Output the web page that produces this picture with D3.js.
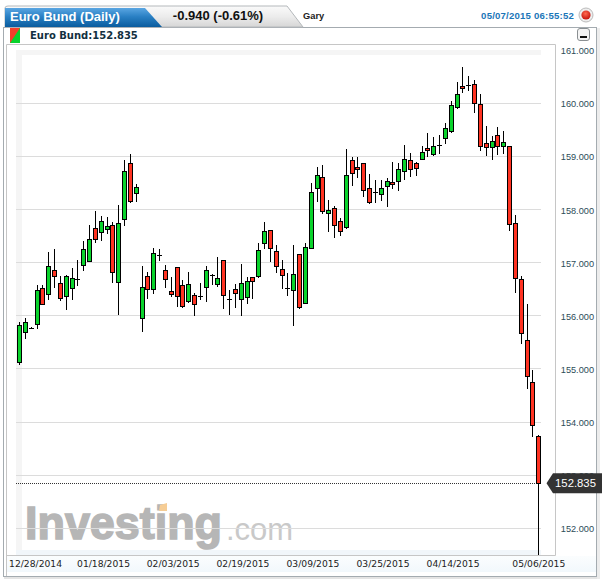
<!DOCTYPE html>
<html><head><meta charset="utf-8">
<style>html,body{margin:0;padding:0;background:#fff;overflow:hidden}svg{display:block}</style>
<script src="https://cdn.jsdelivr.net/npm/d3@7/dist/d3.min.js"></script></head>
<body><svg id="c" width="602" height="581"></svg>
<script>
const open=[155.127,155.679,155.770,155.830,156.508,156.395,156.847,156.602,156.357,156.508,156.690,156.941,157.016,157.637,157.562,157.619,157.694,156.620,157.807,158.862,158.297,155.943,156.734,
156.489,157.142,156.847,156.464,156.903,156.564,156.263,156.376,156.369,156.526,156.759,156.583,157.035,156.300,156.489,156.300,156.338,156.715,156.734,157.355,157.600,157.204,156.865,156.508,
156.471,157.149,156.226,157.274,158.392,158.599,157.921,158.015,157.770,157.657,158.919,158.787,158.862,158.392,158.316,158.279,158.429,158.505,158.523,158.712,158.919,158.862,158.938,159.145,159.032,159.201,
159.333,159.465,159.917,160.312,160.337,160.350,159.973,159.239,159.163,159.389,159.182,159.182,157.732,156.677,155.529,154.738,153.721];
const high=[155.880,155.955,155.773,156.564,156.564,157.186,157.248,156.740,156.765,156.884,157.035,157.393,157.694,157.958,157.864,157.845,157.751,158.071,158.924,159.037,158.472,156.922,156.815,
157.261,157.242,156.947,156.715,156.903,156.658,156.809,156.413,156.602,156.928,156.778,157.091,157.035,156.470,156.595,156.960,156.715,156.715,157.361,157.763,157.600,157.317,157.035,156.790,
157.318,157.149,157.356,158.486,158.787,158.825,158.166,158.053,157.827,159.126,158.988,158.975,158.862,158.661,158.542,158.542,158.592,158.881,158.869,159.201,159.063,158.881,159.182,159.427,159.352,159.390,
159.615,160.042,160.387,160.676,160.500,160.425,160.168,159.565,159.371,159.540,159.465,159.182,157.883,156.740,156.213,154.964,153.746];
const low=[155.064,155.560,155.767,155.735,156.194,156.282,156.508,156.263,156.100,156.294,156.552,156.834,157.000,157.368,157.393,157.525,156.602,155.999,157.688,158.121,158.140,155.685,156.300,
156.407,157.029,156.514,156.351,156.156,156.144,156.225,155.980,156.294,156.257,156.564,156.539,156.125,156.012,156.131,155.993,156.219,156.313,156.696,157.248,157.010,156.796,156.489,156.370,
155.805,156.113,156.213,157.262,158.128,157.902,157.576,157.450,157.494,157.619,158.442,158.580,158.235,158.090,158.122,158.159,158.046,158.379,158.341,158.548,158.611,158.624,158.925,158.988,159.000,159.032,
159.226,159.440,159.892,160.193,160.231,159.810,159.101,159.007,158.925,159.019,159.038,157.594,156.414,155.453,154.606,153.702,151.486];
const close=[155.811,155.867,155.770,156.470,156.206,156.922,156.734,156.319,156.734,156.696,156.690,157.242,157.430,157.430,157.769,157.675,156.809,157.732,158.711,158.146,158.410,156.526,156.489,
157.167,157.142,156.677,156.395,156.357,156.169,156.583,156.206,156.369,156.847,156.759,156.696,156.376,156.300,156.413,156.602,156.639,156.639,157.223,157.581,157.261,156.922,156.752,156.508,
156.772,156.151,157.280,158.316,158.636,157.958,157.977,157.695,157.582,158.636,158.674,158.749,158.354,158.128,158.316,158.392,158.523,158.467,158.749,158.938,158.749,158.768,159.069,159.107,159.182,159.201,
159.521,159.954,160.161,160.274,160.337,159.992,159.182,159.163,159.276,159.182,159.258,157.710,156.696,155.661,154.851,153.928,152.835];
const priceTicks=[161,160,159,158,157,156,155,154,153,152];
const gridPrices=[160,159,158,157,156,155,154,153,152];
const dateLabels=["12/28/2014","01/18/2015","02/03/2015","02/19/2015","03/09/2015","03/25/2015","04/14/2015","05/06/2015"];
const dateIndex=[2.75,14.4,26.35,38.3,50.3,62.3,74.3,89];
const lastPrice=152.835;
const titleText="Euro Bund (Daily)",changeText="-0.940 (-0.61%)",userText="Gary",stampText="05/07/2015 06:55:52";

const svg=d3.select("#c");
const x=d3.scaleLinear().domain([0,89]).range([19,538.3]);
const y=d3.scaleLinear().domain([152,161]).range([527.7,49.8]);
const defs=svg.append("defs");
function grad(id,dir,stops){const g=defs.append("linearGradient").attr("id",id).attr("x1",0).attr("y1",0).attr("x2",dir=="h"?1:0).attr("y2",dir=="h"?0:1);
 stops.forEach(s=>g.append("stop").attr("offset",s[0]).attr("stop-color",s[1]));}
grad("blue","v",[[0,"#5aa6e2"],[.45,"#2a80c4"],[1,"#0a5c9e"]]);
grad("gray","v",[[0,"#fafafa"],[.5,"#ececec"],[1,"#d6d6d6"]]);
grad("strip","v",[[0,"#fbfdfe"],[1,"#f2f8fc"]]);
const rg=defs.append("radialGradient").attr("id","dot").attr("cx",.45).attr("cy",.35).attr("r",.65);
rg.append("stop").attr("offset",0).attr("stop-color","#ff6a50");rg.append("stop").attr("offset",1).attr("stop-color","#c4100a");

// frame
svg.append("rect").attr("x",4).attr("y",576).attr("width",595).attr("height",3).attr("fill","#e4e4e4");
svg.append("rect").attr("x",597).attr("y",28).attr("width",3).attr("height",551).attr("fill","#ececec");
svg.append("rect").attr("x",3.5).attr("y",27.5).attr("width",593).attr("height",549).attr("fill","#fff").attr("stroke","#a4abb0");
// bottom strip
svg.append("rect").attr("x",7).attr("y",556).attr("width",589).attr("height",16).attr("fill","url(#strip)");
// tabs
svg.append("path").attr("d","M5,8 Q5,6 8,6 L287,6 L303,27 L5,27 Z").attr("fill","url(#gray)").attr("stroke","#b4b8bb");
svg.append("path").attr("d","M5,8 L145,8 L162,27 L5,27 Z").attr("fill","url(#blue)");
svg.append("text").attr("x",10).attr("y",20.5).attr("fill","#fff").style("font","bold 13px 'Liberation Sans'").text(titleText);
svg.append("text").attr("x",218).attr("y",20).attr("text-anchor","middle").attr("fill","#111").style("font","bold 13px 'Liberation Sans'").text(changeText);
svg.append("text").attr("x",303).attr("y",19).attr("fill","#222").style("font","bold 9.3px 'Liberation Sans'").text(userText);
svg.append("text").attr("x",574).attr("y",19).attr("text-anchor","end").attr("fill","#1a76b8").style("font","bold 9.6px 'Liberation Sans'").style("letter-spacing","0.2px").text(stampText);
svg.append("circle").attr("cx",586).attr("cy",15).attr("r",7).attr("fill","#eee").attr("stroke","#bbb");
svg.append("circle").attr("cx",586).attr("cy",15).attr("r",4.6).attr("fill","url(#dot)");
// instrument row
svg.append("path").attr("d","M10,28 H20 V43 H10 Z").attr("fill","#0ad32c");
svg.append("path").attr("d","M10,28 H20 L10,43 Z").attr("fill","#f5402a");
svg.append("text").attr("x",30).attr("y",38.5).attr("fill","#12303f").style("font","bold 10px 'DejaVu Sans'").text("Euro Bund:"+lastPrice.toFixed(3));
svg.append("rect").attr("x",577.5).attr("y",28.5).attr("width",12).attr("height",12).attr("rx",2.5).attr("fill","#f4f4f4").attr("stroke","#8a8f92");
svg.append("rect").attr("x",580).attr("y",36).attr("width",7).attr("height",2).attr("fill","#111");
// plot panel
svg.append("path").attr("d","M6.5,576 V44.5 H555.5 V555.5 H6.5").attr("fill","none").attr("stroke","#c6c6c6");
svg.append("rect").attr("x",16).attr("y",50).attr("width",525).attr("height",5).attr("fill","#f5f5f5");
svg.append("rect").attr("x",16).attr("y",50).attr("width",6).attr("height",505).attr("fill","#f5f5f5");
svg.append("rect").attr("x",16).attr("y",550).attr("width",525).attr("height",5).attr("fill","#f1f6fa");
// watermark
const wm=svg.append("g");
wm.append("text").attr("x",25).attr("y",539).attr("fill","#b6b6b6").attr("stroke","#b6b6b6").attr("stroke-width",1.6).attr("textLength",197).attr("lengthAdjust","spacingAndGlyphs").style("font","bold 46px 'Liberation Sans'").text("Investing");
wm.append("path").attr("d","M160,505 L167,503 L167,511 L159,511 Z").attr("fill","#f6cd95");
wm.append("text").attr("x",226).attr("y",540).attr("fill","#c9c9c9").style("font","31px 'Liberation Sans'").text(".com");
// grid
svg.append("g").selectAll("line").data(gridPrices).join("line").attr("x1",16).attr("x2",541)
 .attr("y1",d=>Math.round(y(d))+.5).attr("y2",d=>Math.round(y(d))+.5).attr("stroke","#dcdcdc");
// axes
const ya=svg.append("g").attr("transform","translate(594,1)").call(d3.axisRight(y).tickValues(priceTicks).tickSize(0).tickPadding(0).tickFormat(d3.format(".3f")));
ya.select(".domain").remove();
ya.selectAll("text").attr("text-anchor","end").attr("fill","#2d4c58").style("font","9.2px 'Liberation Sans'");
const xa=svg.append("g").attr("transform","translate(0,555)").call(d3.axisBottom(x).tickValues(dateIndex).tickSize(0).tickPadding(5).tickFormat((d,i)=>dateLabels[i]));
xa.select(".domain").remove();
xa.selectAll("text").attr("fill","#222").style("font","9.2px 'DejaVu Sans'");
// last price line
svg.append("line").attr("x1",16).attr("x2",540).attr("y1",Math.round(y(lastPrice))+.5).attr("y2",Math.round(y(lastPrice))+.5).attr("stroke","#333").attr("stroke-dasharray","1,1");
// candles
const idx=d3.range(open.length);
const cx=i=>Math.round(x(i))+.5;
const g=svg.append("g").attr("shape-rendering","crispEdges");
g.selectAll("line").data(idx).join("line").attr("x1",cx).attr("x2",cx).attr("y1",i=>y(high[i])).attr("y2",i=>y(low[i])).attr("stroke","#000");
g.selectAll("rect").data(idx).join("rect").attr("x",i=>cx(i)-2).attr("width",4)
 .attr("y",i=>Math.round(y(Math.max(open[i],close[i])))+.5)
 .attr("height",i=>Math.max(0.01,Math.round(y(Math.min(open[i],close[i])))-Math.round(y(Math.max(open[i],close[i])))))
 .attr("fill",i=>close[i]>=open[i]?"#0ad32c":"#ff3322").attr("stroke","#000");
// last price tag
const ty=y(lastPrice);
svg.append("path").attr("d",`M546.5,${ty} L553,${ty-10} H602 V${ty+10} H553 Z`).attr("fill","#333");
svg.append("text").attr("x",575.5).attr("y",ty+4).attr("text-anchor","middle").attr("fill","#fff").style("font","11.3px 'Liberation Sans'").text(lastPrice.toFixed(3));
</script></body></html>
